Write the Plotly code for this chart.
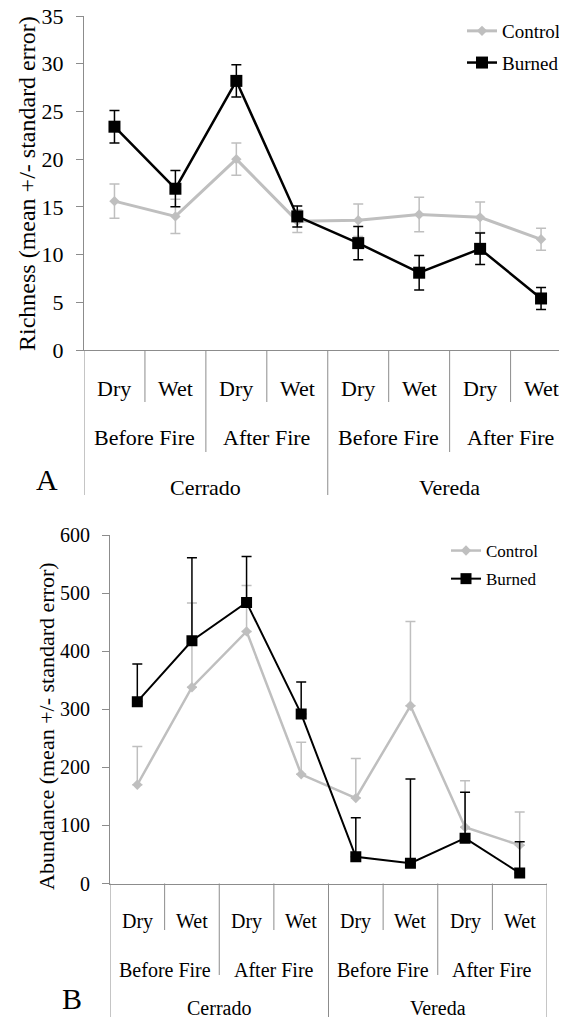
import plotly.graph_objects as go

# ---------------- data ----------------
seasons = ["Dry", "Wet", "Dry", "Wet", "Dry", "Wet", "Dry", "Wet"]
periods = ["Before Fire", "After Fire", "Before Fire", "After Fire"]
sites = ["Cerrado", "Vereda"]
series_names = ["Control", "Burned"]

richness_control = [15.6, 14.0, 20.0, 13.5, 13.6, 14.2, 13.9, 11.6]
richness_control_se = [1.8, 1.8, 1.7, 1.2, 1.7, 1.8, 1.6, 1.15]
richness_burned = [23.4, 16.9, 28.2, 14.0, 11.2, 8.1, 10.6, 5.4]
richness_burned_se = [1.7, 1.9, 1.7, 1.1, 1.75, 1.8, 1.65, 1.15]

abundance_control = [170, 338, 434, 188, 147, 306, 97, 66]
abundance_control_se = [66, 145, 79, 55, 68, 145, 80, 57]
abundance_burned = [313, 418, 484, 292, 46, 35, 78, 18]
abundance_burned_se = [65, 143, 79, 55, 67, 145, 79, 54]

richness_ticks = [0, 5, 10, 15, 20, 25, 30, 35]
abundance_ticks = [0, 100, 200, 300, 400, 500, 600]

# ---------------- layout constants ----------------
W, H = 567, 1017
OFF = 8  # page (body) margin in which the plot div sits
FONT = "Liberation Serif"
GRAY = "#BFBFBF"
AXIS = "#8C8C8C"
idx = list(range(len(seasons)))


def X(px):
    return (px - OFF) / W


def Y(px):
    return 1 - (px - OFF) / H


fig = go.Figure()

# Panel A
fig.add_trace(go.Scatter(
    x=idx, y=richness_control, name=series_names[0], mode="lines+markers", legendgroup="a1",
    line=dict(color=GRAY, width=3), marker=dict(symbol="diamond", size=8, color=GRAY),
    error_y=dict(type="data", array=richness_control_se, color=GRAY, thickness=1.5, width=5),
    xaxis="x", yaxis="y", legend="legend"))
fig.add_trace(go.Scatter(
    x=idx, y=richness_burned, name=series_names[1], mode="lines+markers", legendgroup="a2",
    line=dict(color="black", width=2.5), marker=dict(symbol="square", size=12, color="black"),
    error_y=dict(type="data", array=richness_burned_se, color="black", thickness=1.5, width=5),
    xaxis="x", yaxis="y", legend="legend"))

# Panel B
zeros = [0] * len(idx)
fig.add_trace(go.Scatter(
    x=idx, y=abundance_control, name=series_names[0], mode="lines+markers", legendgroup="b1",
    line=dict(color=GRAY, width=2.5), marker=dict(symbol="diamond", size=8, color=GRAY),
    error_y=dict(type="data", array=abundance_control_se, arrayminus=zeros, symmetric=False,
                 color=GRAY, thickness=1.5, width=5),
    xaxis="x2", yaxis="y2", legend="legend2"))
fig.add_trace(go.Scatter(
    x=idx, y=abundance_burned, name=series_names[1], mode="lines+markers", legendgroup="b2",
    line=dict(color="black", width=2), marker=dict(symbol="square", size=11, color="black"),
    error_y=dict(type="data", array=abundance_burned_se, arrayminus=zeros, symmetric=False,
                 color="black", thickness=1.5, width=5),
    xaxis="x2", yaxis="y2", legend="legend2"))

# pixel geometry (screen pixels) of the two panels
A_left, A_right, A_top, A_bot = 84, 575, 16, 350
A_step = 60.94
B_left, B_right, B_top, B_bot = 110, 547, 535, 883.5

shapes = []
annotations = []


def category_axis(xref, y0, ends, rows, fsize):
    short_end, period_end, site_end = ends
    for b in [i + 0.5 for i in range(-1, len(idx))]:
        if b in (-0.5, 3.5, 7.5):
            end = site_end
        elif b in (1.5, 5.5):
            end = period_end
        else:
            end = short_end
        shapes.append(dict(type="line", xref=xref, yref="paper", x0=b, x1=b,
                           y0=Y(y0), y1=Y(end), line=dict(color=AXIS, width=1)))
    f = dict(family=FONT, size=fsize, color="black")
    for i, s in enumerate(seasons):
        annotations.append(dict(xref=xref, yref="paper", x=i, y=Y(rows[0]), text=s,
                                showarrow=False, font=f, xanchor="center", yanchor="middle"))
    for j, p in enumerate(periods):
        annotations.append(dict(xref=xref, yref="paper", x=2 * j + 0.5, y=Y(rows[1]), text=p,
                                showarrow=False, font=f, xanchor="center", yanchor="middle"))
    for k, s in enumerate(sites):
        annotations.append(dict(xref=xref, yref="paper", x=4 * k + 1.5, y=Y(rows[2]), text=s,
                                showarrow=False, font=f, xanchor="center", yanchor="middle"))


category_axis("x", A_bot, (402, 452, 495), (388, 437, 487), 22)
category_axis("x2", B_bot, (930, 975, 1030), (921, 970, 1008), 20)


def side_text(x, y, text, size, angle=0):
    return dict(xref="paper", yref="paper", x=X(x), y=Y(y), text=text, textangle=angle,
                showarrow=False, xanchor="center", yanchor="middle",
                font=dict(family=FONT, size=size, color="black"))


annotations += [
    side_text(27, 184, "Richness (mean +/- standard error)", 24, -90),
    side_text(46, 726, "Abundance (mean +/- standard error)", 22, -90),
    side_text(47, 479, "A", 30),
    side_text(72, 998, "B", 30),
]

axis_common = dict(showgrid=False, zeroline=False, showline=True, linecolor=AXIS, linewidth=1)

fig.update_layout(
    width=W, height=H, margin=dict(l=0, r=0, t=0, b=0, pad=0, autoexpand=False),
    paper_bgcolor="white", plot_bgcolor="white",
    font=dict(family=FONT, color="black"),
    xaxis=dict(domain=[X(A_left), min(1, X(A_right))],
               range=[-0.5, -0.5 + (A_right - A_left) / A_step],
               showticklabels=False, ticks="", anchor="y", **axis_common),
    yaxis=dict(domain=[Y(A_bot), Y(A_top)], range=[0, 35], tickvals=richness_ticks,
               ticks="outside", ticklen=7, tickcolor=AXIS, ticklabelstandoff=8,
               ticklabeloverflow="allow",
               tickfont=dict(family=FONT, size=22, color="black"), anchor="x", **axis_common),
    xaxis2=dict(domain=[X(B_left), X(B_right)], range=[-0.5, 7.5],
                showticklabels=False, ticks="", anchor="y2", **axis_common),
    yaxis2=dict(domain=[Y(B_bot), Y(B_top)], range=[0, 600], tickvals=abundance_ticks,
                ticks="outside", ticklen=7, tickcolor=AXIS, ticklabelstandoff=8,
                ticklabeloverflow="allow",
                tickfont=dict(family=FONT, size=20, color="black"), anchor="x2", **axis_common),
    legend=dict(x=X(462), y=Y(12), xanchor="left", yanchor="top", bgcolor="rgba(0,0,0,0)",
                tracegroupgap=4, font=dict(family=FONT, size=19, color="black")),
    legend2=dict(x=X(446), y=Y(533), xanchor="left", yanchor="top", bgcolor="rgba(0,0,0,0)",
                 tracegroupgap=3, font=dict(family=FONT, size=17, color="black")),
    shapes=shapes, annotations=annotations,
)

fig.write_html("out.html")
